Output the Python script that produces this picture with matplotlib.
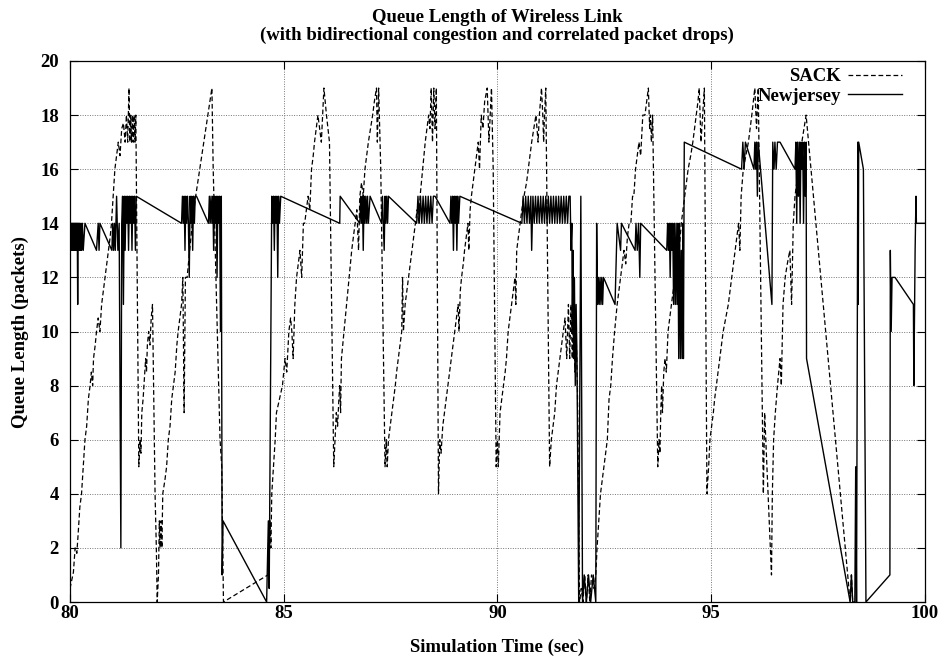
import matplotlib
matplotlib.use("Agg")
import matplotlib.pyplot as plt

# Queue length of the wireless link, (time in sec, queue in packets)
sack = [
    # 80 - 81.6
    (80.00, 0.5), (80.08, 1.1), (80.12, 2.0), (80.16, 1.8), (80.19, 2.5), (80.23, 3.5), (80.27, 4.0),
    (80.31, 5.0), (80.35, 6.0), (80.39, 6.5), (80.43, 7.5), (80.47, 8.0), (80.50, 8.5), (80.53, 8.0),
    (80.55, 9.0), (80.59, 9.5), (80.62, 10.0), (80.66, 10.5), (80.70, 10.0), (80.74, 11.0), (80.78, 11.5),
    (80.82, 12.0), (80.86, 12.5), (80.90, 13.0), (80.94, 13.5), (80.97, 14.0), (81.01, 15.0), (81.05, 16.0),
    (81.09, 16.5), (81.13, 17.0), (81.17, 16.5), (81.21, 17.5), (81.25, 17.7), (81.29, 17.0), (81.32, 18.0),
    (81.35, 17.0), (81.38, 19.0), (81.40, 17.0), (81.42, 18.0), (81.44, 17.0), (81.46, 18.0), (81.48, 17.0),
    (81.50, 18.0), (81.52, 17.0), (81.54, 18.0), (81.61, 5.0),
    # 81.6 - 83.6
    (81.64, 6.0), (81.66, 5.5), (81.68, 7.0), (81.71, 7.5), (81.73, 8.0), (81.75, 8.5), (81.77, 9.0),
    (81.79, 8.5), (81.81, 9.5), (81.84, 10.0), (81.87, 9.5), (81.90, 10.5), (81.93, 11.0), (81.99, 4.0),
    (82.02, 2.0), (82.04, 0.0), (82.07, 1.0), (82.09, 3.0), (82.11, 2.0), (82.13, 3.0), (82.15, 2.0),
    (82.17, 4.0), (82.22, 4.5), (82.26, 5.0), (82.30, 6.0), (82.34, 6.5), (82.38, 7.5), (82.42, 8.0),
    (82.46, 8.5), (82.50, 9.5), (82.53, 10.0), (82.57, 10.5), (82.61, 11.0), (82.64, 12.0), (82.67, 7.0),
    (82.70, 12.0), (82.74, 12.0), (82.86, 14.0), (82.94, 15.0), (83.32, 19.0), (83.35, 16.0), (83.51, 6.0),
    (83.55, 5.0), (83.59, 0.0),
    # 83.6 - 86.2
    (84.63, 1.0), (84.66, 2.0), (84.68, 3.0), (84.70, 2.0), (84.72, 4.0), (84.76, 5.0), (84.80, 6.0),
    (84.83, 7.0), (84.90, 7.5), (84.97, 8.0), (85.03, 9.0), (85.07, 8.5), (85.12, 10.0), (85.16, 10.5),
    (85.19, 10.0), (85.22, 9.0), (85.26, 11.0), (85.30, 12.0), (85.34, 12.5), (85.38, 13.0), (85.42, 12.0),
    (85.46, 14.0), (85.49, 14.0), (85.53, 14.5), (85.57, 15.0), (85.61, 14.5), (85.65, 16.0), (85.69, 16.5),
    (85.72, 17.0), (85.76, 17.5), (85.80, 18.0), (85.84, 17.5), (85.88, 17.0), (85.94, 19.0), (86.00, 18.0),
    (86.07, 17.0), (86.17, 5.0),
    # 86.2 - 87.4
    (86.20, 6.0), (86.23, 7.0), (86.26, 6.5), (86.29, 7.5), (86.31, 8.0), (86.33, 7.0), (86.35, 9.0),
    (86.38, 9.5), (86.41, 10.0), (86.44, 10.5), (86.47, 11.0), (86.50, 11.5), (86.53, 12.0), (86.56, 12.5),
    (86.59, 13.0), (86.63, 13.5), (86.67, 14.0), (86.71, 14.5), (86.75, 13.0), (86.78, 15.0), (86.82, 15.5),
    (86.86, 15.0), (86.90, 16.0), (86.94, 16.5), (86.98, 17.0), (87.03, 17.5), (87.08, 18.0), (87.12, 18.5),
    (87.17, 19.0), (87.19, 17.0), (87.22, 19.0), (87.27, 16.0), (87.37, 5.0),
    # 87.4 - 88.6
    (87.40, 6.0), (87.42, 5.0), (87.45, 6.0), (87.49, 6.5), (87.53, 7.0), (87.57, 7.5), (87.61, 8.0),
    (87.64, 8.5), (87.68, 9.0), (87.72, 9.5), (87.76, 10.0), (87.78, 12.0), (87.80, 10.0), (87.84, 11.0),
    (87.88, 11.5), (87.92, 12.0), (87.96, 12.5), (88.00, 13.0), (88.04, 13.5), (88.08, 14.0), (88.12, 14.5),
    (88.16, 14.0), (88.19, 15.0), (88.25, 16.0), (88.31, 17.0), (88.35, 17.5), (88.39, 18.0), (88.42, 17.5),
    (88.45, 19.0), (88.48, 17.0), (88.51, 19.0), (88.54, 17.5), (88.57, 19.0), (88.62, 4.0),
    # 88.6 - 90.0
    (88.65, 6.0), (88.68, 5.5), (88.72, 6.5), (88.76, 7.0), (88.80, 7.5), (88.84, 8.0), (88.88, 8.5),
    (88.92, 9.0), (88.96, 9.5), (89.00, 10.0), (89.04, 10.5), (89.08, 11.0), (89.10, 10.0), (89.13, 11.5),
    (89.16, 12.0), (89.20, 12.5), (89.23, 13.0), (89.27, 13.5), (89.31, 14.0), (89.33, 13.0), (89.36, 14.5),
    (89.39, 15.0), (89.43, 15.5), (89.47, 16.0), (89.51, 16.5), (89.55, 17.0), (89.58, 16.0), (89.62, 18.0),
    (89.66, 17.5), (89.70, 18.5), (89.76, 19.0), (89.80, 17.0), (89.83, 18.0), (89.86, 19.0), (89.90, 16.0),
    (89.97, 5.0),
    # 90 - 91.2
    (90.00, 6.0), (90.02, 5.0), (90.06, 7.0), (90.10, 7.5), (90.14, 8.0), (90.18, 8.5), (90.21, 9.0),
    (90.25, 10.0), (90.29, 10.5), (90.33, 11.0), (90.37, 11.5), (90.41, 12.0), (90.43, 11.0), (90.45, 13.0),
    (90.49, 13.5), (90.53, 14.0), (90.57, 14.5), (90.62, 15.0), (90.68, 15.5), (90.72, 16.0), (90.76, 16.5),
    (90.80, 17.0), (90.85, 17.5), (90.90, 18.0), (90.95, 17.0), (90.98, 18.0), (91.03, 19.0), (91.06, 18.0),
    (91.08, 17.0), (91.10, 18.0), (91.13, 19.0), (91.22, 5.0),
    # 91.2 - 92.3
    (91.26, 6.0), (91.30, 6.5), (91.34, 7.0), (91.38, 8.0), (91.42, 8.5), (91.46, 9.0), (91.50, 9.5),
    (91.54, 10.0), (91.58, 10.5), (91.62, 9.0), (91.66, 11.0), (91.69, 9.0), (91.72, 11.0), (91.75, 9.0),
    (91.78, 11.0), (91.81, 8.5), (91.84, 10.0), (91.87, 8.0), (91.92, 0.0), (91.96, 0.5), (92.00, 0.0),
    (92.04, 1.0), (92.08, 0.0), (92.12, 1.0), (92.16, 0.0), (92.20, 1.0), (92.26, 0.5), (92.30, 1.0),
    # 92.3 - 93.75
    (92.33, 2.0), (92.37, 3.0), (92.41, 4.0), (92.45, 4.5), (92.49, 5.0), (92.53, 5.5), (92.57, 6.0),
    (92.61, 7.5), (92.65, 8.0), (92.69, 9.0), (92.74, 10.0), (92.80, 11.0), (92.84, 11.5), (92.88, 12.0),
    (92.92, 12.5), (92.96, 13.0), (93.00, 12.5), (93.04, 13.5), (93.08, 14.0), (93.12, 14.0), (93.16, 15.0),
    (93.19, 15.0), (93.23, 16.0), (93.27, 16.5), (93.31, 17.0), (93.35, 16.5), (93.40, 18.0), (93.45, 18.0),
    (93.53, 19.0), (93.56, 17.5), (93.58, 18.0), (93.60, 17.0), (93.63, 18.0), (93.75, 5.0),
    # 93.75 - 94.9
    (93.78, 6.0), (93.80, 5.5), (93.82, 7.0), (93.84, 8.0), (93.86, 7.0), (93.89, 8.5), (93.92, 9.0),
    (93.95, 8.5), (93.99, 10.0), (94.03, 10.5), (94.07, 11.0), (94.11, 11.5), (94.15, 12.0), (94.20, 12.5),
    (94.25, 13.0), (94.30, 14.0), (94.34, 14.5), (94.38, 15.0), (94.42, 15.5), (94.46, 16.0), (94.52, 16.5),
    (94.57, 17.0), (94.61, 17.5), (94.65, 18.0), (94.69, 18.5), (94.72, 19.0), (94.76, 17.0), (94.80, 18.0),
    (94.84, 19.0), (94.90, 4.0),
    # 94.9 - 96.4
    (94.94, 5.0), (94.97, 6.0), (95.01, 6.5), (95.05, 7.0), (95.08, 7.5), (95.12, 8.0), (95.16, 8.5),
    (95.20, 9.0), (95.24, 9.5), (95.28, 10.0), (95.34, 10.5), (95.40, 11.0), (95.44, 11.5), (95.48, 12.0),
    (95.52, 12.5), (95.56, 13.0), (95.60, 13.5), (95.64, 14.0), (95.67, 13.0), (95.70, 15.0), (95.75, 16.0),
    (95.81, 16.5), (95.87, 17.0), (95.91, 17.5), (95.95, 18.0), (96.02, 19.0), (96.06, 17.5), (96.10, 19.0),
    (96.22, 4.0), (96.25, 7.0), (96.41, 1.0),
    # 96.4 - 98.3
    (96.43, 4.0), (96.46, 6.0), (96.50, 7.0), (96.55, 8.0), (96.61, 9.0), (96.64, 8.0), (96.68, 11.0),
    (96.73, 12.0), (96.78, 12.5), (96.84, 13.0), (96.88, 11.0), (96.92, 14.0), (96.96, 15.0), (97.00, 15.5),
    (97.04, 16.0), (97.08, 16.5), (97.12, 17.0), (97.17, 17.5), (97.22, 18.0), (98.25, 0.0), (98.28, 1.0),
    (98.31, 0.0),
]

newjersey = [
    # 80 - 81.6
    (80.00, 14.0), (80.005, 12.0), (80.01, 14.0), (80.02, 13.0), (80.03, 14.0), (80.04, 13.0), (80.05, 14.0),
    (80.06, 13.0), (80.07, 14.0), (80.08, 13.0), (80.09, 14.0), (80.10, 13.0), (80.11, 14.0), (80.12, 13.0),
    (80.13, 14.0), (80.14, 13.0), (80.15, 14.0), (80.16, 13.0), (80.17, 14.0), (80.18, 11.0), (80.19, 14.0),
    (80.20, 13.0), (80.21, 14.0), (80.22, 13.0), (80.23, 14.0), (80.24, 13.0), (80.26, 14.0), (80.27, 13.0),
    (80.29, 14.0), (80.31, 13.0), (80.35, 14.0), (80.62, 13.0), (80.66, 14.0), (80.68, 13.0), (80.70, 14.0),
    (80.98, 13.0), (81.00, 14.0), (81.02, 13.0), (81.04, 14.0), (81.06, 13.0), (81.09, 15.0), (81.12, 13.0),
    (81.15, 14.0), (81.19, 2.0), (81.21, 14.0), (81.23, 15.0), (81.25, 11.0), (81.27, 15.0), (81.29, 13.0),
    (81.31, 15.0), (81.33, 14.0), (81.35, 15.0), (81.37, 13.0), (81.39, 15.0), (81.41, 14.0), (81.43, 15.0),
    (81.45, 13.0), (81.47, 15.0), (81.49, 14.0), (81.51, 15.0), (81.53, 13.0), (81.55, 15.0),
    # 81.6 - 84.6
    (82.61, 14.0), (82.63, 15.0), (82.65, 14.0), (82.67, 15.0), (82.69, 13.0), (82.71, 15.0), (82.73, 14.0),
    (82.75, 15.0), (82.77, 14.0), (82.79, 12.0), (82.81, 15.0), (82.83, 14.0), (82.85, 15.0), (82.87, 13.0),
    (82.89, 15.0), (82.91, 14.0), (82.93, 15.0), (82.96, 15.0), (83.24, 14.0), (83.26, 15.0), (83.28, 14.0),
    (83.30, 15.0), (83.32, 14.0), (83.34, 15.0), (83.36, 13.0), (83.38, 15.0), (83.40, 14.0), (83.42, 15.0),
    (83.44, 12.0), (83.46, 15.0), (83.48, 14.0), (83.50, 15.0), (83.52, 10.0), (83.54, 15.0), (83.56, 1.0),
    (83.58, 3.0), (84.60, 0.0),
    # 84.6 - 89.1
    (84.64, 3.0), (84.66, 0.5), (84.72, 15.0), (84.74, 14.0), (84.76, 15.0), (84.78, 13.0), (84.80, 15.0),
    (84.82, 14.0), (84.84, 15.0), (84.86, 12.0), (84.88, 15.0), (84.90, 14.0), (84.93, 15.0), (86.31, 14.0),
    (86.32, 15.0), (86.78, 14.0), (86.80, 15.0), (86.82, 14.0), (86.84, 15.0), (86.86, 13.0), (86.88, 15.0),
    (86.90, 14.0), (86.92, 15.0), (86.94, 14.0), (86.96, 15.0), (86.98, 14.0), (87.02, 15.0), (87.29, 14.0),
    (87.31, 15.0), (87.33, 14.0), (87.35, 13.0), (87.37, 15.0), (87.39, 14.0), (87.41, 15.0), (87.43, 14.0),
    (87.45, 15.0), (88.11, 14.0), (88.14, 15.0), (88.17, 14.0), (88.20, 15.0), (88.23, 14.0), (88.26, 15.0),
    (88.29, 14.0), (88.32, 15.0), (88.35, 14.0), (88.38, 15.0), (88.41, 14.0), (88.44, 15.0), (88.47, 14.0),
    (88.50, 15.0), (88.54, 15.0), (88.89, 14.0), (88.91, 15.0), (88.93, 14.0), (88.95, 15.0), (88.97, 13.0),
    (88.99, 15.0), (89.01, 14.0), (89.03, 15.0), (89.05, 13.0), (89.07, 15.0), (89.09, 14.0), (89.12, 15.0),
    # 89.1 - 91.7
    (90.57, 14.0), (90.60, 15.0), (90.63, 14.0), (90.66, 15.0), (90.69, 14.0), (90.72, 15.0), (90.75, 14.0),
    (90.78, 15.0), (90.80, 13.0), (90.83, 15.0), (90.86, 14.0), (90.89, 15.0), (90.92, 14.0), (90.95, 15.0),
    (90.98, 14.0), (91.01, 15.0), (91.04, 14.0), (91.07, 15.0), (91.10, 14.0), (91.13, 15.0), (91.16, 14.0),
    (91.19, 15.0), (91.22, 14.0), (91.25, 15.0), (91.28, 14.0), (91.31, 15.0), (91.34, 14.0), (91.37, 15.0),
    (91.40, 14.0), (91.43, 15.0), (91.46, 14.0), (91.49, 15.0), (91.52, 14.0), (91.55, 15.0), (91.58, 14.0),
    (91.61, 15.0), (91.64, 14.0), (91.67, 15.0), (91.70, 15.0),
    # 91.7 - 93.96
    (91.72, 13.0), (91.74, 14.0), (91.75, 10.0), (91.77, 13.0), (91.78, 9.0), (91.80, 12.0), (91.82, 8.0),
    (91.84, 11.0), (91.86, 9.0), (91.90, 0.0), (91.95, 15.0), (91.99, 0.0), (92.03, 1.0), (92.08, 0.0),
    (92.13, 1.0), (92.18, 0.0), (92.24, 1.0), (92.30, 0.0), (92.32, 14.0), (92.34, 11.0), (92.36, 12.0),
    (92.38, 11.0), (92.40, 12.0), (92.42, 11.0), (92.44, 12.0), (92.46, 11.0), (92.48, 12.0), (92.75, 11.0),
    (92.80, 14.0), (92.88, 13.0), (92.90, 14.0), (93.22, 13.0), (93.24, 14.0), (93.27, 13.0), (93.30, 14.0),
    (93.33, 12.0), (93.35, 14.0), (93.96, 13.0),
    # 93.96 - 97.23
    (93.98, 14.0), (94.00, 13.0), (94.02, 14.0), (94.04, 12.0), (94.06, 14.0), (94.08, 13.0), (94.10, 14.0),
    (94.12, 11.0), (94.14, 14.0), (94.16, 11.0), (94.18, 14.0), (94.20, 11.0), (94.22, 14.0), (94.24, 9.0),
    (94.26, 14.0), (94.28, 9.0), (94.30, 13.0), (94.32, 9.0), (94.34, 14.0), (94.35, 9.0), (94.37, 17.0),
    (95.71, 16.0), (95.74, 17.0), (95.77, 16.0), (95.80, 17.0), (96.00, 16.0), (96.02, 17.0), (96.04, 16.0),
    (96.06, 17.0), (96.08, 15.0), (96.10, 17.0), (96.42, 11.0), (96.44, 17.0), (96.47, 16.0), (96.49, 17.0),
    (96.52, 16.0), (96.55, 17.0), (96.61, 17.0), (96.96, 16.0), (96.98, 17.0), (97.00, 14.0), (97.02, 17.0),
    (97.04, 15.0), (97.06, 17.0), (97.08, 14.0), (97.10, 17.0), (97.12, 16.0), (97.14, 17.0), (97.16, 14.0),
    (97.18, 17.0), (97.20, 15.0), (97.22, 17.0), (97.23, 9.0),
    # 97.23 - 100
    (98.25, 0.0), (98.28, 1.0), (98.31, 0.0), (98.36, 0.0), (98.38, 5.0), (98.40, 0.0), (98.43, 17.0),
    (98.44, 11.0), (98.45, 17.0), (98.56, 16.0), (98.62, 0.0), (99.18, 1.0), (99.19, 13.0), (99.21, 10.0),
    (99.23, 12.0), (99.30, 12.0), (99.73, 11.0), (99.74, 8.0), (99.77, 13.0), (99.79, 15.0), (99.80, 14.0),
    (100.00, 14.0),
]

sack_t, sack_q = zip(*sack)
nj_t, nj_q = zip(*newjersey)

x_ticks = [80, 85, 90, 95, 100]
y_ticks = list(range(0, 21, 2))

plt.rcParams["font.family"] = "Liberation Serif"
plt.rcParams["font.weight"] = "bold"
plt.rcParams["font.size"] = 13.5

fig = plt.figure(figsize=(9.42, 6.63), dpi=100)
ax = fig.add_axes([0.0743, 0.092, 0.9076, 0.816])

ax.plot(sack_t, sack_q, color="black", lw=0.9, linestyle=(0, (3.8, 2.2)), label="SACK")
ax.plot(nj_t, nj_q, color="black", lw=1.0, linestyle="-", label="Newjersey")

ax.set_xlim(80, 100)
ax.set_ylim(0, 20)
ax.set_xticks(x_ticks)
ax.set_yticks(y_ticks)
ax.grid(True, color="#777777", linestyle=(0, (1, 1.5)), lw=0.7)
ax.tick_params(direction="in", top=True, right=True, length=5.5, width=0.8)
ax.tick_params(axis="x", pad=2)
ax.tick_params(axis="y", pad=8)
for s in ax.spines.values():
    s.set_linewidth(0.9)

ax.set_xlabel("Simulation Time (sec)", fontweight="bold", labelpad=12)
ax.set_ylabel("Queue Length (packets)", fontweight="bold", labelpad=8)

fig.text(0.528, 0.9668, "Queue Length of Wireless Link", ha="center", va="baseline", fontweight="bold")
fig.text(0.528, 0.9397, "(with bidirectional congestion and correlated packet drops)",
         ha="center", va="baseline", fontweight="bold")

leg = ax.legend(loc="upper right", bbox_to_anchor=(0.975, 0.990), markerfirst=False, frameon=False,
                handlelength=2.85, handletextpad=0.4, labelspacing=0.12, borderpad=0.1, borderaxespad=0)
for t in leg.get_texts():
    t.set_fontweight("bold")

fig.savefig("out.png", dpi=100)
